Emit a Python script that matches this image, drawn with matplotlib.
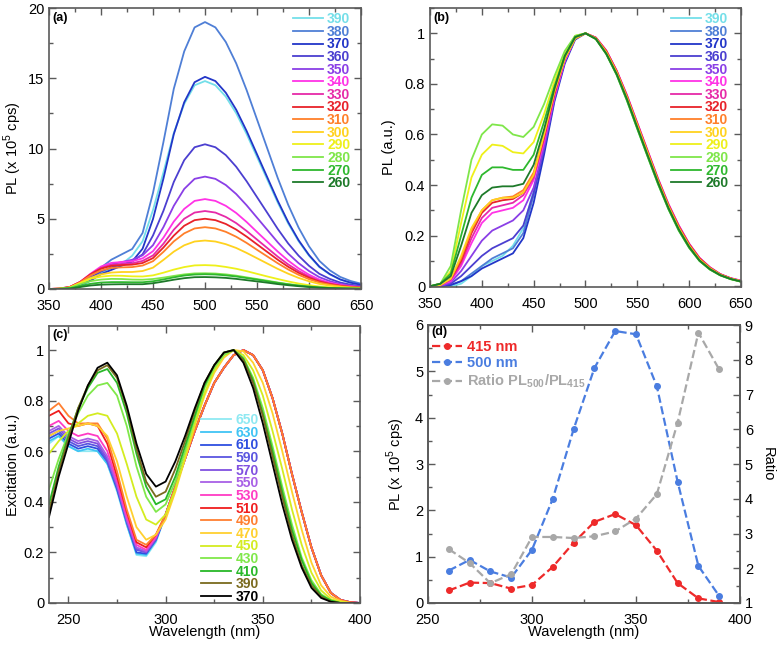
import numpy as np
import matplotlib
matplotlib.use('Agg')
from matplotlib import pyplot as plt
from matplotlib.ticker import MultipleLocator

plt.rcParams['font.family'] = ['Liberation Sans', 'DejaVu Sans']
plt.rcParams['mathtext.fontset'] = 'custom'
plt.rcParams['mathtext.rm'] = 'Liberation Sans'
plt.rcParams['mathtext.bf'] = 'Liberation Sans:bold'

# ---------------- datos (a) y (b): emision, exc. 390..260 nm
wl_em = [350, 360, 370, 380, 390, 400, 410, 420, 430, 440, 450, 460, 470, 480, 490, 500,
         510, 520, 530, 540, 550, 560, 570, 580, 590, 600, 610, 620, 630, 640, 650]
exc_labels = ['390', '380', '370', '360', '350', '340', '330', '320', '310', '300', '290', '280', '270', '260']
exc_colors = ['#74dfe9', '#4f7fd6', '#2236c8', '#4b3fd0', '#8a3fe6', '#ff33e6', '#e62aa8',
              '#e8222a', '#ff7f2a', '#ffd21f', '#eef01a', '#7fe64a', '#2eb82e', '#1e7a2a']

pl390 = [0, 0, 0, 0.15, 0.59, 1.18, 1.48, 1.78, 2.37, 3.4, 5.62, 8.29, 11.1, 13.17, 14.5, 14.8,
         14.5, 13.69, 12.51, 11.03, 9.4, 7.77, 6.14, 4.66, 3.4, 2.37, 1.55, 1.04, 0.67, 0.44, 0.3]
pl380 = [0, 0, 0.1, 0.38, 0.95, 1.52, 2.09, 2.47, 2.85, 3.99, 6.84, 10.45, 14.25, 16.91, 18.62, 19.0,
         18.62, 17.58, 16.06, 14.16, 12.07, 9.98, 7.89, 5.99, 4.37, 3.04, 2.0, 1.33, 0.86, 0.57, 0.38]
pl370 = [0, 0, 0.08, 0.3, 0.6, 1.06, 1.36, 1.66, 1.96, 2.87, 4.98, 7.85, 11.02, 13.29, 14.72, 15.1,
         14.8, 13.97, 12.76, 11.25, 9.59, 7.93, 6.27, 4.76, 3.47, 2.42, 1.59, 1.06, 0.68, 0.45, 0.3]
pl360 = [0, 0, 0.1, 0.41, 0.82, 1.24, 1.55, 1.75, 1.96, 2.47, 3.81, 5.56, 7.62, 9.17, 10.09, 10.3,
         10.09, 9.53, 8.7, 7.67, 6.54, 5.41, 4.27, 3.24, 2.37, 1.65, 1.08, 0.72, 0.46, 0.31, 0.21]
pl350 = [0, 0, 0.12, 0.48, 0.96, 1.44, 1.76, 1.92, 2.08, 2.4, 3.12, 4.4, 5.92, 7.12, 7.84, 8.0,
         7.84, 7.4, 6.76, 5.96, 5.08, 4.2, 3.32, 2.52, 1.84, 1.28, 0.84, 0.56, 0.36, 0.24, 0.16]
pl340 = [0, 0.03, 0.13, 0.51, 1.09, 1.6, 1.86, 1.92, 1.98, 2.18, 2.69, 3.65, 4.8, 5.7, 6.27, 6.4,
         6.27, 5.92, 5.41, 4.77, 4.06, 3.36, 2.66, 2.02, 1.47, 1.02, 0.67, 0.45, 0.29, 0.19, 0.13]
pl330 = [0, 0.03, 0.14, 0.5, 1.05, 1.5, 1.72, 1.78, 1.83, 2.0, 2.39, 3.22, 4.22, 5.0, 5.44, 5.55,
         5.44, 5.13, 4.69, 4.13, 3.52, 2.91, 2.3, 1.75, 1.28, 0.89, 0.58, 0.39, 0.25, 0.17, 0.11]
pl320 = [0, 0.03, 0.15, 0.5, 1.05, 1.45, 1.65, 1.7, 1.73, 1.85, 2.2, 2.95, 3.8, 4.5, 4.9, 5.0,
         4.9, 4.63, 4.23, 3.73, 3.18, 2.63, 2.08, 1.58, 1.15, 0.8, 0.53, 0.35, 0.23, 0.15, 0.1]
pl310 = [0, 0.02, 0.13, 0.48, 0.97, 1.32, 1.5, 1.54, 1.56, 1.67, 1.98, 2.64, 3.39, 3.96, 4.31, 4.4,
         4.31, 4.07, 3.72, 3.28, 2.79, 2.31, 1.83, 1.39, 1.01, 0.7, 0.46, 0.31, 0.2, 0.13, 0.09]
pl300 = [0, 0.02, 0.1, 0.41, 0.79, 1.04, 1.17, 1.21, 1.21, 1.28, 1.52, 2.07, 2.66, 3.11, 3.38, 3.45,
         3.38, 3.19, 2.92, 2.57, 2.19, 1.81, 1.43, 1.09, 0.79, 0.55, 0.36, 0.24, 0.16, 0.1, 0.07]
pl290 = [0, 0.02, 0.1, 0.43, 0.73, 0.88, 0.95, 0.94, 0.9, 0.89, 0.97, 1.16, 1.38, 1.56, 1.68, 1.7,
         1.67, 1.57, 1.44, 1.27, 1.08, 0.89, 0.71, 0.54, 0.39, 0.27, 0.18, 0.12, 0.08, 0.05, 0.03]
pl280 = [0, 0.01, 0.09, 0.34, 0.56, 0.67, 0.72, 0.71, 0.67, 0.66, 0.71, 0.81, 0.93, 1.04, 1.11, 1.12,
         1.1, 1.04, 0.95, 0.83, 0.71, 0.59, 0.46, 0.35, 0.26, 0.18, 0.12, 0.08, 0.05, 0.03, 0.02]
pl270 = [0, 0.01, 0.05, 0.21, 0.37, 0.46, 0.49, 0.49, 0.48, 0.48, 0.55, 0.68, 0.83, 0.96, 1.03, 1.05,
         1.03, 0.97, 0.89, 0.78, 0.67, 0.55, 0.44, 0.33, 0.24, 0.17, 0.11, 0.07, 0.05, 0.03, 0.02]
pl260 = [0, 0.01, 0.03, 0.14, 0.25, 0.31, 0.33, 0.34, 0.34, 0.34, 0.41, 0.53, 0.66, 0.77, 0.84, 0.85,
         0.83, 0.79, 0.72, 0.63, 0.54, 0.45, 0.35, 0.27, 0.2, 0.14, 0.09, 0.06, 0.04, 0.03, 0.02]

nb390 = [0, 0, 0, 0.01, 0.04, 0.08, 0.10, 0.12, 0.16, 0.23, 0.38, 0.56, 0.75, 0.89, 0.98, 1.0,
         0.98, 0.925, 0.845, 0.745, 0.635, 0.525, 0.415, 0.315, 0.23, 0.16, 0.105, 0.07, 0.045, 0.03, 0.02]
nb380 = [0, 0, 0.005, 0.02, 0.05, 0.08, 0.11, 0.13, 0.15, 0.21, 0.36, 0.55, 0.75, 0.89, 0.98, 1.0,
         0.98, 0.925, 0.845, 0.745, 0.635, 0.525, 0.415, 0.315, 0.23, 0.16, 0.105, 0.07, 0.045, 0.03, 0.02]
nb370 = [0, 0, 0.005, 0.02, 0.04, 0.07, 0.09, 0.11, 0.13, 0.19, 0.33, 0.52, 0.73, 0.88, 0.975, 1.0,
         0.98, 0.925, 0.845, 0.745, 0.635, 0.525, 0.415, 0.315, 0.23, 0.16, 0.105, 0.07, 0.045, 0.03, 0.02]
nb360 = [0, 0, 0.01, 0.04, 0.08, 0.12, 0.15, 0.17, 0.19, 0.24, 0.37, 0.54, 0.74, 0.89, 0.98, 1.0,
         0.98, 0.927, 0.848, 0.748, 0.638, 0.528, 0.418, 0.318, 0.232, 0.162, 0.107, 0.072, 0.046, 0.03, 0.02]
nb350 = [0, 0, 0.015, 0.06, 0.12, 0.18, 0.22, 0.24, 0.26, 0.30, 0.39, 0.55, 0.74, 0.89, 0.98, 1.0,
         0.982, 0.93, 0.85, 0.75, 0.64, 0.53, 0.42, 0.32, 0.235, 0.165, 0.11, 0.073, 0.047, 0.031, 0.021]
nb340 = [0, 0.005, 0.02, 0.08, 0.17, 0.25, 0.29, 0.30, 0.31, 0.34, 0.42, 0.57, 0.75, 0.89, 0.98, 1.0,
         0.983, 0.932, 0.853, 0.755, 0.645, 0.535, 0.425, 0.325, 0.24, 0.168, 0.112, 0.075, 0.048, 0.032, 0.022]
nb330 = [0, 0.005, 0.025, 0.09, 0.19, 0.27, 0.31, 0.32, 0.33, 0.36, 0.43, 0.58, 0.76, 0.90, 0.98, 1.0,
         0.983, 0.932, 0.853, 0.755, 0.645, 0.535, 0.425, 0.325, 0.24, 0.168, 0.112, 0.075, 0.048, 0.032, 0.022]
nb320 = [0, 0.005, 0.03, 0.10, 0.21, 0.29, 0.33, 0.34, 0.345, 0.37, 0.44, 0.59, 0.76, 0.90, 0.98, 1.0,
         0.982, 0.93, 0.85, 0.75, 0.64, 0.53, 0.42, 0.32, 0.235, 0.165, 0.11, 0.073, 0.047, 0.031, 0.018]
nb310 = [0, 0.005, 0.03, 0.11, 0.22, 0.30, 0.34, 0.35, 0.355, 0.38, 0.45, 0.60, 0.77, 0.90, 0.98, 1.0,
         0.98, 0.927, 0.848, 0.748, 0.638, 0.528, 0.418, 0.318, 0.232, 0.162, 0.107, 0.072, 0.046, 0.03, 0.02]
nb300 = [0, 0.005, 0.03, 0.12, 0.23, 0.30, 0.34, 0.35, 0.35, 0.37, 0.44, 0.60, 0.77, 0.90, 0.98, 1.0,
         0.98, 0.925, 0.845, 0.745, 0.635, 0.525, 0.415, 0.315, 0.23, 0.16, 0.105, 0.07, 0.045, 0.03, 0.02]
nb290 = [0, 0.01, 0.06, 0.25, 0.43, 0.52, 0.56, 0.555, 0.53, 0.525, 0.57, 0.68, 0.81, 0.92, 0.99, 1.0,
         0.978, 0.92, 0.84, 0.74, 0.628, 0.518, 0.41, 0.31, 0.225, 0.156, 0.102, 0.068, 0.044, 0.029, 0.019]
nb280 = [0, 0.01, 0.08, 0.30, 0.50, 0.60, 0.64, 0.635, 0.60, 0.59, 0.63, 0.72, 0.83, 0.93, 0.99, 1.0,
         0.977, 0.918, 0.836, 0.734, 0.622, 0.512, 0.404, 0.305, 0.22, 0.152, 0.1, 0.066, 0.043, 0.028, 0.018]
nb270 = [0, 0.01, 0.05, 0.20, 0.35, 0.44, 0.47, 0.47, 0.46, 0.46, 0.52, 0.65, 0.79, 0.91, 0.985, 1.0,
         0.977, 0.918, 0.836, 0.734, 0.622, 0.512, 0.404, 0.305, 0.22, 0.152, 0.1, 0.066, 0.043, 0.028, 0.018]
nb260 = [0, 0.01, 0.04, 0.16, 0.29, 0.36, 0.39, 0.395, 0.395, 0.405, 0.48, 0.62, 0.78, 0.91, 0.985, 1.0,
         0.978, 0.92, 0.84, 0.74, 0.628, 0.518, 0.41, 0.31, 0.225, 0.156, 0.102, 0.068, 0.044, 0.029, 0.019]

pl_abs = [pl390, pl380, pl370, pl360, pl350, pl340, pl330, pl320, pl310, pl300, pl290, pl280, pl270, pl260]
pl_norm = [nb390, nb380, nb370, nb360, nb350, nb340, nb330, nb320, nb310, nb300, nb290, nb280, nb270, nb260]

# ---------------- datos (c): excitacion, em. 650..370 nm
wl_ex = [240, 245, 250, 255, 260, 265, 270, 275, 280, 285, 290, 295, 300, 305, 310, 315, 320,
         325, 330, 335, 340, 345, 350, 355, 360, 365, 370, 375, 380, 385, 390, 395, 400]
em_labels = ['650', '630', '610', '590', '570', '550', '530', '510', '490', '470', '450', '430', '410', '390', '370']
em_colors = ['#8fe9f2', '#40c4f4', '#2e4fe0', '#5a55e0', '#8050e0', '#a860e6', '#ff3cc4', '#f01e1e',
             '#ff7f30', '#ffd030', '#d4ec20', '#80e84a', '#28b828', '#7a6a1e', '#000000']

ex650 = [0.63, 0.66, 0.62, 0.60, 0.60, 0.60, 0.55, 0.44, 0.31, 0.19, 0.185, 0.24, 0.35, 0.46, 0.57, 0.68, 0.78,
         0.87, 0.93, 0.98, 1.00, 0.98, 0.92, 0.81, 0.67, 0.51, 0.36, 0.22, 0.11, 0.04, 0.012, 0.003, 0]
ex630 = [0.64, 0.66, 0.62, 0.60, 0.61, 0.60, 0.55, 0.45, 0.31, 0.195, 0.19, 0.245, 0.35, 0.46, 0.57, 0.68, 0.78,
         0.87, 0.93, 0.98, 1.00, 0.98, 0.92, 0.81, 0.67, 0.51, 0.36, 0.22, 0.11, 0.04, 0.012, 0.003, 0]
ex610 = [0.65, 0.67, 0.63, 0.61, 0.62, 0.61, 0.56, 0.45, 0.32, 0.20, 0.195, 0.25, 0.35, 0.46, 0.57, 0.68, 0.78,
         0.87, 0.93, 0.98, 1.00, 0.98, 0.92, 0.81, 0.67, 0.51, 0.36, 0.22, 0.11, 0.04, 0.012, 0.003, 0]
ex590 = [0.66, 0.68, 0.64, 0.62, 0.63, 0.62, 0.56, 0.46, 0.32, 0.21, 0.20, 0.25, 0.35, 0.46, 0.57, 0.68, 0.78,
         0.87, 0.93, 0.98, 1.00, 0.98, 0.92, 0.81, 0.67, 0.51, 0.36, 0.22, 0.11, 0.04, 0.012, 0.003, 0]
ex570 = [0.67, 0.69, 0.65, 0.63, 0.64, 0.63, 0.57, 0.46, 0.33, 0.215, 0.20, 0.255, 0.35, 0.46, 0.57, 0.68, 0.78,
         0.87, 0.93, 0.98, 1.00, 0.98, 0.92, 0.81, 0.67, 0.51, 0.36, 0.22, 0.11, 0.04, 0.012, 0.003, 0]
ex550 = [0.68, 0.70, 0.66, 0.64, 0.65, 0.64, 0.58, 0.47, 0.33, 0.22, 0.205, 0.26, 0.35, 0.46, 0.57, 0.68, 0.78,
         0.87, 0.93, 0.98, 1.00, 0.98, 0.92, 0.81, 0.67, 0.51, 0.36, 0.22, 0.11, 0.04, 0.012, 0.003, 0]
ex530 = [0.70, 0.72, 0.68, 0.66, 0.67, 0.66, 0.60, 0.48, 0.34, 0.23, 0.21, 0.26, 0.35, 0.46, 0.57, 0.68, 0.78,
         0.87, 0.93, 0.98, 1.00, 0.98, 0.92, 0.81, 0.67, 0.51, 0.36, 0.22, 0.11, 0.04, 0.012, 0.003, 0]
ex510 = [0.74, 0.76, 0.71, 0.70, 0.71, 0.70, 0.63, 0.50, 0.36, 0.24, 0.22, 0.27, 0.35, 0.46, 0.57, 0.68, 0.78,
         0.87, 0.93, 0.98, 1.00, 0.98, 0.92, 0.81, 0.67, 0.51, 0.36, 0.22, 0.11, 0.04, 0.012, 0.003, 0]
ex490 = [0.76, 0.79, 0.74, 0.71, 0.71, 0.71, 0.65, 0.52, 0.37, 0.25, 0.23, 0.27, 0.35, 0.46, 0.57, 0.68, 0.78,
         0.87, 0.93, 0.98, 1.00, 0.98, 0.92, 0.81, 0.67, 0.51, 0.36, 0.22, 0.11, 0.04, 0.012, 0.003, 0]
ex470 = [0.66, 0.68, 0.69, 0.70, 0.71, 0.70, 0.66, 0.56, 0.42, 0.30, 0.25, 0.27, 0.33, 0.44, 0.57, 0.70, 0.82,
         0.91, 0.97, 1.00, 0.995, 0.95, 0.87, 0.75, 0.60, 0.44, 0.29, 0.16, 0.07, 0.025, 0.008, 0, 0]
ex450 = [0.59, 0.64, 0.68, 0.71, 0.74, 0.75, 0.74, 0.67, 0.55, 0.42, 0.33, 0.31, 0.35, 0.45, 0.58, 0.71, 0.83,
         0.92, 0.98, 1.00, 0.98, 0.92, 0.82, 0.68, 0.53, 0.37, 0.23, 0.12, 0.05, 0.015, 0.005, 0, 0]
ex430 = [0.45, 0.57, 0.67, 0.75, 0.82, 0.86, 0.87, 0.82, 0.70, 0.54, 0.42, 0.36, 0.39, 0.48, 0.60, 0.73, 0.85,
         0.93, 0.98, 1.00, 0.97, 0.89, 0.77, 0.62, 0.46, 0.31, 0.18, 0.09, 0.035, 0.01, 0, 0, 0]
ex410 = [0.39, 0.54, 0.66, 0.77, 0.85, 0.91, 0.925, 0.87, 0.75, 0.59, 0.46, 0.39, 0.41, 0.50, 0.62, 0.74, 0.86,
         0.94, 0.99, 1.00, 0.965, 0.88, 0.75, 0.60, 0.44, 0.29, 0.17, 0.08, 0.03, 0.01, 0, 0, 0]
ex390 = [0.36, 0.52, 0.65, 0.77, 0.86, 0.92, 0.94, 0.89, 0.77, 0.61, 0.48, 0.42, 0.44, 0.53, 0.64, 0.76, 0.87,
         0.94, 0.99, 1.00, 0.96, 0.87, 0.74, 0.58, 0.42, 0.27, 0.15, 0.07, 0.025, 0.005, 0, 0, 0]
ex370 = [0.34, 0.50, 0.63, 0.76, 0.86, 0.93, 0.95, 0.90, 0.78, 0.63, 0.51, 0.46, 0.48, 0.56, 0.66, 0.77, 0.87,
         0.94, 0.99, 1.00, 0.95, 0.85, 0.71, 0.55, 0.39, 0.25, 0.14, 0.06, 0.02, 0.005, 0, 0, 0]
excit = [ex650, ex630, ex610, ex590, ex570, ex550, ex530, ex510, ex490, ex470, ex450, ex430, ex410, ex390, ex370]

# ---------------- datos (d)
wl_d = [260, 270, 280, 290, 300, 310, 320, 330, 340, 350, 360, 370, 380, 390]
pl_415 = [0.27, 0.44, 0.43, 0.31, 0.39, 0.78, 1.30, 1.75, 1.92, 1.68, 1.13, 0.43, 0.10, 0.02]
pl_500 = [0.70, 0.93, 0.68, 0.55, 1.15, 2.25, 3.75, 5.07, 5.87, 5.80, 4.68, 2.62, 0.80, 0.15]
ratio = [2.55, 2.15, 1.57, 1.83, 2.90, 2.90, 2.87, 2.92, 3.06, 3.43, 4.13, 6.19, 8.78, 7.72]

FS = 10.5
SPINE = '#5a5a5a'


def estilo(ax, right=True):
    for s in ax.spines.values():
        s.set_color(SPINE)
        s.set_linewidth(1.2)
    ax.tick_params(which='both', direction='in', top=True, right=right, colors=SPINE,
                   labelcolor='black', labelsize=FS, width=1.0)
    ax.tick_params(which='major', length=5)
    ax.tick_params(which='minor', length=3)
    ax.tick_params(axis='x', which='major', pad=7)


def leyenda(ax, x, y, fs=10):
    lg = ax.legend(loc='upper left', bbox_to_anchor=(x, y), frameon=False,
                   labelcolor='linecolor', prop={'weight': 'bold', 'size': fs},
                   handlelength=2.15, handletextpad=0.3, labelspacing=-0.1, borderpad=0,
                   borderaxespad=0)
    return lg


fig = plt.figure(figsize=(7.84, 6.48), dpi=100)
W, H = 784.0, 648.0


def eje(l, r, t, b):
    return fig.add_axes([l / W, 1 - b / H, (r - l) / W, (b - t) / H])


# (a)
ax = eje(49, 361, 8, 289)
for y, c, lab in zip(pl_abs, exc_colors, exc_labels):
    ax.plot(wl_em, y, color=c, lw=1.3, label=lab)
ax.set_xlim(350, 650)
ax.set_ylim(0, 20)
ax.xaxis.set_major_locator(MultipleLocator(50))
ax.xaxis.set_minor_locator(MultipleLocator(25))
ax.yaxis.set_major_locator(MultipleLocator(5))
ax.yaxis.set_minor_locator(MultipleLocator(2.5))
ax.set_ylabel('PL (x 10$^5$ cps)', fontsize=FS, labelpad=3)
estilo(ax)
leyenda(ax, 0.782, 0.985)
ax.text(0.012, 0.985, '(a)', transform=ax.transAxes, fontsize=9, fontweight='bold', va='top')

# (b)
ax = eje(430, 741, 8, 287)
for y, c, lab in zip(pl_norm, exc_colors, exc_labels):
    ax.plot(wl_em, y, color=c, lw=1.3, label=lab)
ax.set_xlim(350, 650)
ax.set_ylim(-0.003, 1.1)
ax.xaxis.set_major_locator(MultipleLocator(50))
ax.xaxis.set_minor_locator(MultipleLocator(25))
ax.set_yticks([0, 0.2, 0.4, 0.6, 0.8, 1.0])
ax.set_yticklabels(['0', '0.2', '0.4', '0.6', '0.8', '1'])
ax.yaxis.set_minor_locator(MultipleLocator(0.1))
ax.set_ylabel('PL (a.u.)', fontsize=FS, labelpad=6)
estilo(ax)
leyenda(ax, 0.775, 0.985)
ax.text(0.012, 0.985, '(b)', transform=ax.transAxes, fontsize=9, fontweight='bold', va='top')

# (c)
ax = eje(49, 360, 326, 603)
for y, c, lab in zip(excit, em_colors, em_labels):
    ax.plot(wl_ex, y, color=c, lw=1.3, label=lab)
ax.set_xlim(240, 400)
ax.set_ylim(0, 1.095)
ax.xaxis.set_major_locator(MultipleLocator(50))
ax.xaxis.set_minor_locator(MultipleLocator(25))
ax.set_yticks([0, 0.2, 0.4, 0.6, 0.8, 1.0])
ax.set_yticklabels(['0', '0.2', '0.4', '0.6', '0.8', '1'])
ax.yaxis.set_minor_locator(MultipleLocator(0.1))
ax.set_ylabel('Excitation (a.u.)', fontsize=FS, labelpad=3)
ax.set_xlabel('Wavelength (nm)', fontsize=FS, labelpad=-1)
estilo(ax)
leyenda(ax, 0.49, 0.685)
ax.text(0.012, 0.99, '(c)', transform=ax.transAxes, fontsize=9, fontweight='bold', va='top')

# (d)
ax = eje(428, 740, 325, 603)
ax2 = ax.twinx()
l1, = ax.plot(wl_d, pl_415, '--o', color='#ee2a2a', lw=1.6, ms=4, label='415 nm')
l2, = ax.plot(wl_d, pl_500, '--o', color='#4a7de0', lw=1.6, ms=4, label='500 nm')
l3, = ax2.plot(wl_d, ratio, '--o', color='#a8a8a8', lw=1.6, ms=4,
               label='Ratio PL$_{\\mathbf{500}}$/PL$_{\\mathbf{415}}$')
ax.set_xlim(250, 400)
ax.set_ylim(0, 6)
ax2.set_ylim(1, 9)
ax.xaxis.set_major_locator(MultipleLocator(50))
ax.xaxis.set_minor_locator(MultipleLocator(25))
ax.yaxis.set_major_locator(MultipleLocator(1))
ax.yaxis.set_minor_locator(MultipleLocator(0.5))
ax2.yaxis.set_major_locator(MultipleLocator(1))
ax2.yaxis.set_minor_locator(MultipleLocator(0.5))
ax.set_ylabel('PL (x 10$^5$ cps)', fontsize=FS, labelpad=6)
ax.set_xlabel('Wavelength (nm)', fontsize=FS, labelpad=-1)
ax2.set_ylabel('Ratio', fontsize=FS, rotation=270, labelpad=16)
estilo(ax, right=False)
estilo(ax2)
ax2.tick_params(which='both', top=False, left=False)
ax.legend(handles=[l1, l2, l3], loc='upper left', bbox_to_anchor=(0.012, 0.945), frameon=False,
          labelcolor='linecolor', prop={'weight': 'bold', 'size': 10.5}, handlelength=2.1,
          handletextpad=0.35, labelspacing=0.15, borderpad=0, borderaxespad=0)
ax.text(0.012, 0.995, '(d)', transform=ax.transAxes, fontsize=9, fontweight='bold', va='top')

fig.savefig('out.png', dpi=100)
